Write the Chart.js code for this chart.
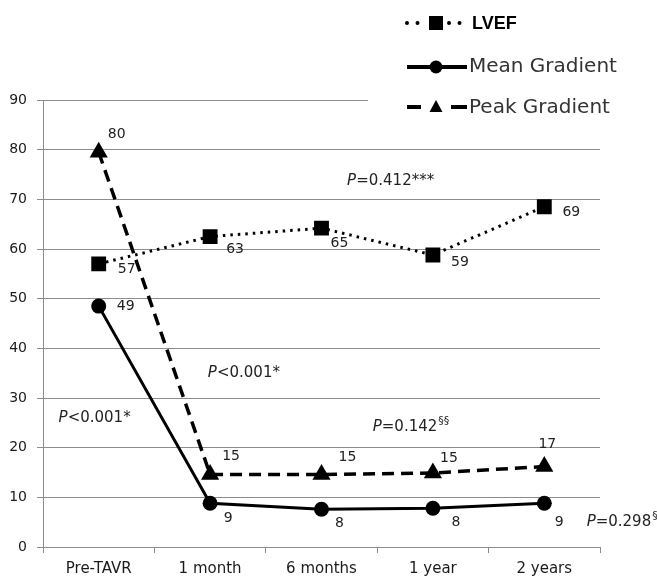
<!DOCTYPE html>
<html>
<head>
<meta charset="utf-8">
<script src="https://cdn.jsdelivr.net/npm/chart.js@4.4.1/dist/chart.umd.min.js"></script>
<style>
body { margin: 0; background: #fff; }
#wrap { width: 657px; height: 579px; }
</style>
</head>
<body>
<div id="wrap"><canvas id="myChart" width="657" height="579"></canvas></div>
<script>
// Data
var timePoints = ["Pre-TAVR", "1 month", "6 months", "1 year", "2 years"];
var lvefValues = [57, 62.5, 64.2, 58.8, 68.5];
var lvefLabels = ["57", "63", "65", "59", "69"];
var meanValues = [48.5, 8.8, 7.6, 7.8, 8.8];
var meanLabels = ["49", "9", "8", "8", "9"];
var peakValues = [79.5, 14.6, 14.6, 14.9, 16.2];
var peakLabels = ["80", "15", "15", "15", "17"];
var seriesNames = ["LVEF", "Mean Gradient", "Peak Gradient"];
var pTexts = ["=0.412***", "<0.001*", "<0.001*", "=0.142", "=0.298"];
var pSups = ["", "", "", "§§", "§"];

var ink = "#1a1a1a";
var gridColor = "#8c8c8c";
var fontName = "'DejaVu Sans', sans-serif";

// where each value label sits relative to its point (px)
var labelOffsets = [
	[[28, 5], [25, 13], [18, 15], [27, 7], [27, 6]],
	[[27, 0], [18, 15], [18, 14], [23, 14], [15, 19]],
	[[18, -18], [21, -18], [26, -17], [16, -15], [3, -22]]
];
var allLabels = [lvefLabels, meanLabels, peakLabels];

// p-value notes, placed in scale units (category index, y value)
var notePlaces = [[2.23, 73.6], [0.98, 35.0], [-0.36, 26.0], [2.46, 24.1], [4.38, 5.0]];

var valueLabelPlugin = {
	id: "valueLabels",
	afterDatasetsDraw: function(chart) {
		var ctx = chart.ctx;
		ctx.save();
		ctx.font = "14px " + fontName;
		ctx.fillStyle = "#222";
		ctx.textAlign = "center";
		ctx.textBaseline = "middle";
		for (var i = 0; i < 3; i++) {
			var meta = chart.getDatasetMeta(i);
			meta.data.forEach(function(pt, j) {
				var off = labelOffsets[i][j];
				ctx.fillText(allLabels[i][j], pt.x + off[0], pt.y + off[1]);
			});
		}

		// p values
		var xs = chart.scales.x, ys = chart.scales.y;
		ctx.textAlign = "left";
		notePlaces.forEach(function(pl, k) {
			var x = xs.getPixelForValue(pl[0]);
			var y = ys.getPixelForValue(pl[1]);
			ctx.font = "italic 15px " + fontName;
			ctx.fillText("P", x, y);
			x += ctx.measureText("P").width;
			ctx.font = "15px " + fontName;
			ctx.fillText(pTexts[k], x, y);
			x += ctx.measureText(pTexts[k]).width;
			if (pSups[k]) {
				ctx.font = "11px " + fontName;
				ctx.fillText(pSups[k], x + 1, y - 6);
			}
		});
		ctx.restore();
	}
};

var legendPlugin = {
	id: "sideLegend",
	afterDraw: function(chart) {
		var ctx = chart.ctx;
		ctx.save();
		// white box behind the legend
		ctx.fillStyle = "#fff";
		ctx.fillRect(368, 0, 289, 118);

		ctx.strokeStyle = "#000";
		ctx.fillStyle = "#000";

		// LVEF row
		ctx.lineWidth = 4;
		ctx.lineCap = "round";
		ctx.setLineDash([0, 10.5]);
		ctx.beginPath();
		ctx.moveTo(407, 23); ctx.lineTo(462, 23);
		ctx.stroke();
		ctx.setLineDash([]);
		ctx.lineCap = "butt";
		ctx.fillStyle = "#fff";
		ctx.fillRect(426, 15, 19, 16);
		ctx.fillStyle = "#000";
		ctx.fillRect(429, 16, 14, 14);

		// Mean Gradient row
		ctx.beginPath();
		ctx.moveTo(407, 67); ctx.lineTo(467, 67);
		ctx.stroke();
		ctx.beginPath();
		ctx.arc(436, 67, 6.5, 0, Math.PI * 2);
		ctx.fill();

		// Peak Gradient row
		ctx.beginPath();
		ctx.moveTo(407, 107); ctx.lineTo(421, 107);
		ctx.moveTo(451, 107); ctx.lineTo(467, 107);
		ctx.stroke();
		ctx.beginPath();
		ctx.moveTo(436, 100); ctx.lineTo(442.5, 112); ctx.lineTo(429.5, 112);
		ctx.closePath();
		ctx.fill();

		ctx.textAlign = "left";
		ctx.textBaseline = "middle";
		ctx.fillStyle = "#000";
		ctx.font = "bold 18px 'Liberation Sans', sans-serif";
		ctx.fillText(seriesNames[0], 472, 24);
		ctx.fillStyle = "#333";
		ctx.font = "20px " + fontName;
		ctx.fillText(seriesNames[1], 469, 67);
		ctx.fillText(seriesNames[2], 469, 108);
		ctx.restore();
	}
};

var ctx = document.getElementById("myChart");
var myChart = new Chart(ctx, {
	type: "line",
	data: {
		labels: timePoints,
		datasets: [
			{
				label: seriesNames[0],
				data: lvefValues,
				borderColor: "#000",
				backgroundColor: "#000",
				borderWidth: 3,
				borderDash: [2.5, 5],
				pointStyle: "rect",
				pointRadius: 10.5,
				pointBorderWidth: 0,
				fill: false,
				tension: 0
			},
			{
				label: seriesNames[1],
				data: meanValues,
				borderColor: "#000",
				backgroundColor: "#000",
				borderWidth: 3,
				pointStyle: "circle",
				pointRadius: 7.5,
				pointBorderWidth: 0,
				fill: false,
				tension: 0
			},
			{
				label: seriesNames[2],
				data: peakValues,
				borderColor: "#000",
				backgroundColor: "#000",
				borderWidth: 3.5,
				borderDash: [12, 7],
				pointStyle: "triangle",
				pointRadius: 10.5,
				pointBorderWidth: 0,
				fill: false,
				tension: 0
			}
		]
	},
	options: {
		responsive: false,
		animation: false,
		layout: { padding: { top: 100, right: 57, left: 0, bottom: 0 } },
		plugins: {
			legend: { display: false },
			tooltip: { enabled: false }
		},
		scales: {
			x: {
				offset: true,
				grid: {
					offset: true,
					drawOnChartArea: false,
					color: gridColor,
					tickLength: 6
				},
				border: { color: gridColor },
				ticks: {
					color: ink,
					padding: 7,
					maxRotation: 0,
					font: { family: fontName, size: 15 }
				},
				afterFit: function(scale) { scale.height = 32; }
			},
			y: {
				min: 0,
				max: 90,
				ticks: {
					stepSize: 10,
					color: ink,
					padding: 10,
					font: { family: fontName, size: 14 }
				},
				grid: { color: gridColor, tickLength: 6 },
				border: { color: gridColor },
				afterFit: function(scale) { scale.width = 43; }
			}
		}
	},
	plugins: [valueLabelPlugin, legendPlugin]
});
</script>
</body>
</html>
